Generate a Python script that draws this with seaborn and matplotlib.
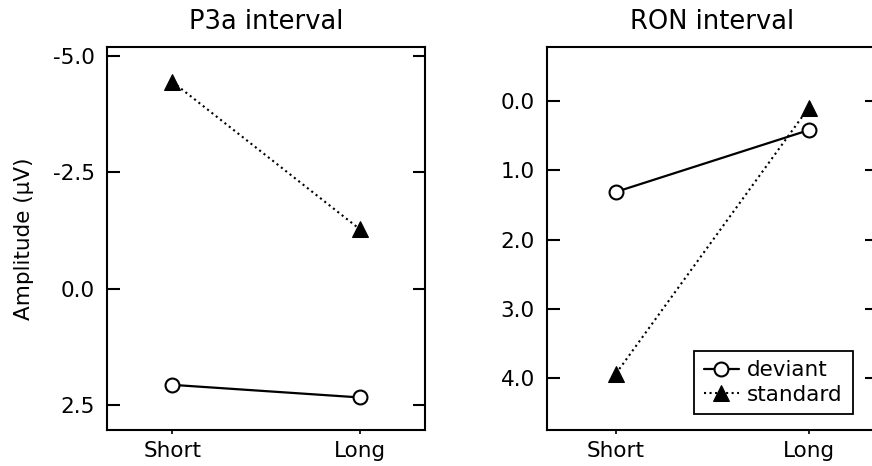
import pandas as pd
import matplotlib
matplotlib.use("Agg")
import matplotlib.pyplot as plt
import seaborn as sns

# values (y axes are inverted)
intervals = ["Short", "Long"]
p3a_deviant = [2.07, 2.34]
p3a_standard = [-4.44, -1.28]
ron_deviant = [1.31, 0.42]
ron_standard = [3.93, 0.10]
p3a_ticks = [-5.0, -2.5, 0.0, 2.5]
ron_ticks = [0.0, 1.0, 2.0, 3.0, 4.0]

sns.set_style("ticks")
plt.rcParams["font.family"] = ["DejaVu Sans"]
plt.rcParams["font.size"] = 15.5
plt.rcParams["text.color"] = "black"
plt.rcParams["axes.labelcolor"] = "black"
plt.rcParams["xtick.color"] = "black"
plt.rcParams["ytick.color"] = "black"


def build_frame(deviant, standard):
    return pd.DataFrame({
        "interval": intervals * 2,
        "amplitude": deviant + standard,
        "condition": ["deviant"] * 2 + ["standard"] * 2,
    })


def draw_panel(ax, df, title, ticks, ylim, xlim):
    sns.lineplot(data=df[df["condition"] == "deviant"], x="interval", y="amplitude",
                 ax=ax, color="black", linewidth=1.6, linestyle="-",
                 marker="o", markersize=10, markerfacecolor="white",
                 markeredgecolor="black", markeredgewidth=1.5, label="deviant")
    sns.lineplot(data=df[df["condition"] == "standard"], x="interval", y="amplitude",
                 ax=ax, color="black", linewidth=1.5, linestyle=":",
                 marker="^", markersize=11, markerfacecolor="black",
                 markeredgecolor="black", label="standard")
    ax.set_title(title, fontsize=18.5, pad=13, color="black")
    ax.set_xlabel("")
    ax.set_ylabel("")
    ax.set_xlim(*xlim)
    ax.set_yticks(ticks)
    ax.set_yticklabels([f"{t:.1f}" for t in ticks])
    ax.set_ylim(*ylim)
    ax.tick_params(axis="y", direction="in", length=9, width=1.5,
                   right=True, labelsize=15.5, pad=9)
    ax.tick_params(axis="x", direction="out", length=3, width=1.2,
                   labelsize=15.5, pad=5)
    for sp in ax.spines.values():
        sp.set_linewidth(1.5)
        sp.set_color("black")


fig = plt.figure(figsize=(8.72, 4.66), dpi=100)
ax1 = fig.add_axes([107 / 872, 36 / 466, 318 / 872, 383 / 466])
ax2 = fig.add_axes([547.3 / 872, 36 / 466, 330 / 872, 383 / 466])

draw_panel(ax1, build_frame(p3a_deviant, p3a_standard), "P3a interval",
           p3a_ticks, (3.04, -5.19), (-0.35, 1.35))
draw_panel(ax2, build_frame(ron_deviant, ron_standard), "RON interval",
           ron_ticks, (4.745, -0.78), (-0.357, 1.357))

ax1.set_ylabel("Amplitude (µV)", fontsize=15.5, labelpad=13)
ax1.get_legend().remove()

leg = ax2.legend(loc="lower right", bbox_to_anchor=(0.925, 0.041),
                 borderaxespad=0, fontsize=15.5, frameon=True, fancybox=False,
                 handlelength=1.6, handletextpad=0.4, labelspacing=0.2,
                 borderpad=0.45)
leg.get_frame().set_edgecolor("black")
leg.get_frame().set_linewidth(1.3)
leg.get_frame().set_alpha(1)

fig.savefig("out.png", dpi=100)
